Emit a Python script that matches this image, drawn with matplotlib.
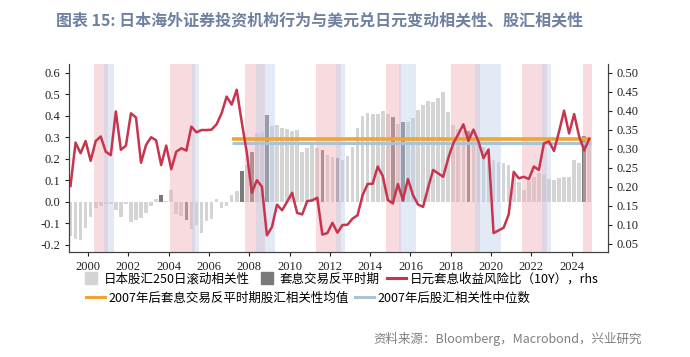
import numpy as np
import pandas as pd
from matplotlib import pyplot as plt
from matplotlib.lines import Line2D

plt.rcParams['font.family'] = ['Noto Sans CJK SC', 'DejaVu Sans']

# quarterly observations, 1999Q1 .. 2024Q4
quarters = pd.period_range('1999Q1', '2024Q4', freq='Q')

# 日本股汇250日滚动相关性 (left axis)
corr = [-0.16, -0.175, -0.18, -0.12, -0.07, -0.03, -0.02, -0.01,
        -0.01, -0.04, -0.07, -0.01, -0.095, -0.085, -0.075, -0.05,
        -0.02, 0.013, 0.03, 0.003, 0.057, -0.055, -0.065, -0.085,
        -0.125, -0.11, -0.145, -0.09, -0.08, 0.012, -0.03, -0.02,
        0.033, 0.05, 0.145, 0.17, 0.233, 0.32, 0.325, 0.405,
        0.352, 0.355, 0.345, 0.34, 0.33, 0.335, 0.232, 0.25,
        0.265, 0.25, 0.24, 0.218, 0.208, 0.202, 0.193, 0.215,
        0.255, 0.344, 0.397, 0.415, 0.406, 0.409, 0.424, 0.409,
        0.395, 0.36, 0.37, 0.372, 0.388, 0.428, 0.451, 0.47,
        0.463, 0.482, 0.512, 0.419, 0.358, 0.338, 0.328, 0.328,
        0.295, 0.29, 0.255, 0.224, 0.196, 0.183, 0.178, 0.17,
        0.12, 0.09, 0.055, 0.095, 0.115, 0.135, 0.125, 0.105,
        0.10, 0.11, 0.115, 0.115, 0.195, 0.18, 0.308, 0.285]

# 套息交易反平时期 (quarter index of the dark bars)
unwind_idx = [18, 23, 34, 36, 39, 50, 53, 64, 66, 79, 102]

# 日元套息收益风险比（10Y）, right axis
carry = [0.202, 0.316, 0.288, 0.320, 0.268, 0.32, 0.332, 0.292,
         0.283, 0.398, 0.297, 0.308, 0.393, 0.382, 0.263, 0.31,
         0.33, 0.322, 0.257, 0.308, 0.246, 0.292, 0.301, 0.295,
         0.358, 0.343, 0.349, 0.349, 0.35, 0.364, 0.393, 0.437,
         0.416, 0.455, 0.37, 0.29, 0.184, 0.217, 0.2, 0.072,
         0.094, 0.153, 0.138, 0.16, 0.184, 0.131, 0.127, 0.162,
         0.164, 0.171, 0.074, 0.078, 0.105, 0.079, 0.099, 0.1,
         0.116, 0.125, 0.178, 0.207, 0.208, 0.253, 0.228, 0.165,
         0.156, 0.207, 0.165, 0.22, 0.178, 0.153, 0.147, 0.197,
         0.244, 0.235, 0.226, 0.275, 0.314, 0.338, 0.364, 0.321,
         0.35, 0.319, 0.275, 0.298, 0.078, 0.085, 0.092, 0.127,
         0.239, 0.222, 0.226, 0.22, 0.253, 0.244, 0.314, 0.319,
         0.294, 0.345, 0.4, 0.34, 0.391, 0.332, 0.295, 0.326]

mean_unwind = 0.292   # 2007年后套息交易反平时期股汇相关性均值
median_corr = 0.274   # 2007年后股汇相关性中位数
ref_start, ref_end = 2007.15, 2024.98

# shaded periods
red_spans = [(2000.3, 2001.0), (2004.05, 2005.3), (2007.8, 2008.78),
             (2011.3, 2012.55), (2014.78, 2015.52), (2018.03, 2019.47),
             (2021.55, 2022.76), (2024.55, 2025.0)]
blue_spans = [(2000.8, 2001.27), (2005.15, 2005.52), (2008.35, 2009.27),
              (2012.3, 2012.76), (2015.45, 2016.27), (2019.2, 2020.5),
              (2022.52, 2022.99)]

x = quarters.year + (quarters.quarter - 1) / 4 + 0.125
corr = np.array(corr)
dark = np.full(len(corr), np.nan)
dark[unwind_idx] = corr[unwind_idx]

fig = plt.figure(figsize=(6.9, 3.57), dpi=100)
ax = fig.add_axes([0.1, 0.295, 0.781, 0.526])
ax2 = ax.twinx()

ax.bar(x, corr, width=0.18, color='#d4d4d4', zorder=1)
ax.bar(x, dark, width=0.18, color='#7a7a7a', zorder=2)
for a, b in red_spans:
    ax.axvspan(a, b, color='#eeb0b8', alpha=0.45, lw=0, zorder=3)
for a, b in blue_spans:
    ax.axvspan(a, b, color='#bcd0e8', alpha=0.42, lw=0, zorder=3)
ax.hlines(median_corr, ref_start, ref_end, color='#a9c3d9', lw=2.2, zorder=4)
ax.hlines(mean_unwind, ref_start, ref_end, color='#f0a432', lw=2.6, zorder=5)

ax2.plot(x, carry, color='#c8344e', lw=1.8)

ax.set_xlim(1999.05, 2025.8)
ax.set_ylim(-0.232, 0.641)
ax2.set_ylim(0.029, 0.523)
ax.set_xticks(range(2000, 2025, 2))
ax.set_yticks(np.arange(-0.2, 0.61, 0.1))
ax.set_yticklabels(['%.1f' % v for v in np.arange(-0.2, 0.61, 0.1)])
ax2.set_yticks(np.arange(0.05, 0.51, 0.05))
ax2.set_yticklabels(['%.2f' % v for v in np.arange(0.05, 0.51, 0.05)])

for a in (ax, ax2):
    a.spines['top'].set_visible(False)
    for s in a.spines.values():
        s.set_color('#404040')
    a.tick_params(labelsize=9, colors='#222222', length=3, width=0.8)
    for lab in a.get_xticklabels() + a.get_yticklabels():
        lab.set_family('Liberation Serif')

fig.text(0.081, 0.944, '图表 15: 日本海外证券投资机构行为与美元兑日元变动相关性、股汇相关性',
         fontsize=11.5, fontweight='bold', color='#6f81a0', va='center')

h1 = [Line2D([], [], marker='s', ls='None', ms=8, color='#d4d4d4'),
      Line2D([], [], marker='s', ls='None', ms=8, color='#7a7a7a'),
      Line2D([], [], color='#c8344e', lw=2.2)]
fig.legend(h1, ['日本股汇250日滚动相关性', '套息交易反平时期', '日元套息收益风险比（10Y），rhs'],
           loc='center left', bbox_to_anchor=(0.118, 1 - 279 / 357), ncol=3,
           frameon=False, fontsize=9, handlelength=1.5, handletextpad=0.3,
           columnspacing=0.6, borderaxespad=0, borderpad=0)
h2 = [Line2D([], [], color='#f0a432', lw=2.2),
      Line2D([], [], color='#a9c3d9', lw=2.2)]
fig.legend(h2, ['2007年后套息交易反平时期股汇相关性均值', '2007年后股汇相关性中位数'],
           loc='center left', bbox_to_anchor=(0.125, 1 - 298 / 357), ncol=2,
           frameon=False, fontsize=9, handlelength=1.5, handletextpad=0.3,
           columnspacing=0.5, borderaxespad=0, borderpad=0)

fig.text(0.93, 1 - 339 / 357, '资料来源：Bloomberg，Macrobond，兴业研究',
         fontsize=9, color='#7f7f7f', ha='right', va='center')

fig.savefig('out.png', dpi=100)
